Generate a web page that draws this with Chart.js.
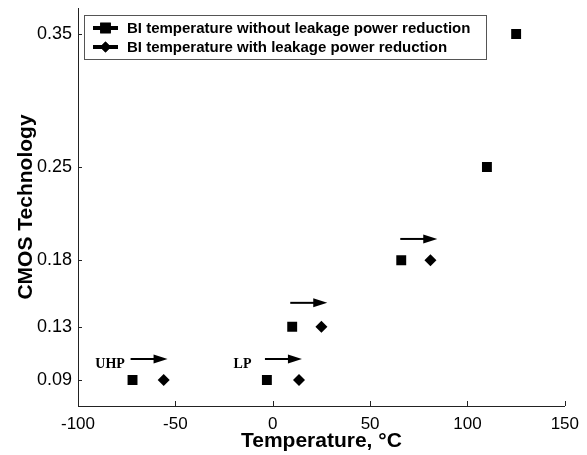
<!DOCTYPE html>
<html>
<head>
<meta charset="utf-8">
<script src="https://cdn.jsdelivr.net/npm/chart.js@4.4.0/dist/chart.umd.min.js"></script>
<style>
  html, body { margin: 0; padding: 0; background: #fff; }
  #wrap { width: 587px; height: 455px; }
</style>
</head>
<body>
<div id="wrap"><canvas id="chart" width="587" height="455"></canvas></div>
<script>
// CMOS nodes shown on the y axis
const techNodes = [0.09, 0.13, 0.18, 0.25, 0.35];

// BI temperature without leakage power reduction
const nodesWithout = [0.09, 0.09, 0.13, 0.18, 0.25, 0.35];
const tempWithout = [-72, -3, 10, 66, 110, 125];

// BI temperature with leakage power reduction
const nodesWith = [0.09, 0.09, 0.13, 0.18];
const tempWith = [-56, 13.5, 25, 81];

// arrows showing the shift (start temp, end temp, y level)
const arrowFrom = [-73, -4, 9, 65.5];
const arrowTo = [-54, 15, 28, 84.5];
const arrowLevel = [0.1058, 0.1058, 0.148, 0.196];

// UHP / LP labels
const groupNames = ['UHP', 'LP'];
const groupX = [-83.5, -15.5];
const groupY = [0.1015, 0.1015];

const legendNames = [
    'BI temperature without leakage power reduction',
    'BI temperature with leakage power reduction'
];

function toPoints(xs, ys) {
    return xs.map((x, i) => ({ x: x, y: ys[i] }));
}

const extras = {
    id: 'extras',
    afterDraw(chart) {
        const ctx = chart.ctx;
        const xs = chart.scales.x;
        const ys = chart.scales.y;
        const area = chart.chartArea;
        ctx.save();

        // inward tick marks
        ctx.strokeStyle = '#222';
        ctx.lineWidth = 1;
        ctx.beginPath();
        xs.ticks.forEach(t => {
            const px = Math.round(xs.getPixelForValue(t.value)) + 0.5;
            ctx.moveTo(px, area.bottom);
            ctx.lineTo(px, area.bottom - 5);
        });
        ys.ticks.forEach(t => {
            const py = Math.round(ys.getPixelForValue(t.value)) + 0.5;
            ctx.moveTo(area.left, py);
            ctx.lineTo(area.left + 4, py);
        });
        ctx.stroke();

        // arrows
        ctx.fillStyle = '#000';
        ctx.strokeStyle = '#000';
        for (let i = 0; i < arrowFrom.length; i++) {
            const x1 = xs.getPixelForValue(arrowFrom[i]);
            const x2 = xs.getPixelForValue(arrowTo[i]);
            const y = ys.getPixelForValue(arrowLevel[i]);
            ctx.lineWidth = 2;
            ctx.beginPath();
            ctx.moveTo(x1, y);
            ctx.lineTo(x2 - 10, y);
            ctx.stroke();
            ctx.beginPath();
            ctx.moveTo(x2, y);
            ctx.lineTo(x2 - 14, y - 4.5);
            ctx.lineTo(x2 - 14, y + 4.5);
            ctx.closePath();
            ctx.fill();
        }

        // UHP / LP labels
        ctx.font = 'bold 14px "Liberation Serif", "Times New Roman", serif';
        ctx.textAlign = 'center';
        ctx.textBaseline = 'middle';
        groupNames.forEach((name, i) => {
            ctx.fillText(name, xs.getPixelForValue(groupX[i]), ys.getPixelForValue(groupY[i]));
        });

        // legend box
        const bx = 84.5, by = 15.5, bw = 402, bh = 44;
        ctx.fillStyle = '#fff';
        ctx.fillRect(bx, by, bw, bh);
        ctx.strokeStyle = '#555';
        ctx.lineWidth = 1;
        ctx.strokeRect(bx, by, bw, bh);
        ctx.font = 'bold 15px "Liberation Sans", Arial, sans-serif';
        ctx.textAlign = 'left';
        ctx.fillStyle = '#000';
        const rows = [28, 47];
        const styles = ['rect', 'rectRot'];
        rows.forEach((ry, i) => {
            ctx.strokeStyle = '#000';
            ctx.lineWidth = 4;
            ctx.beginPath();
            ctx.moveTo(93, ry);
            ctx.lineTo(118, ry);
            ctx.stroke();
            Chart.helpers.drawPoint(ctx, { pointStyle: styles[i], radius: i === 0 ? 7.5 : 5.5, rotation: 0, borderWidth: 0 }, 105.5, ry);
            ctx.fillStyle = '#000';
            ctx.fill();
            ctx.fillText(legendNames[i], 127, ry + 1);
        });
        ctx.restore();
    }
};

new Chart(document.getElementById('chart').getContext('2d'), {
    type: 'scatter',
    data: {
        datasets: [{
            label: legendNames[0],
            data: toPoints(tempWithout, nodesWithout),
            pointStyle: 'rect',
            pointRadius: 7,
            backgroundColor: '#000',
            borderColor: '#000',
            borderWidth: 0
        }, {
            label: legendNames[1],
            data: toPoints(tempWith, nodesWith),
            pointStyle: 'rectRot',
            pointRadius: 6,
            backgroundColor: '#000',
            borderColor: '#000',
            borderWidth: 0
        }]
    },
    options: {
        responsive: false,
        animation: false,
        layout: { padding: { top: 8, right: 21, left: 0, bottom: 0 } },
        plugins: {
            legend: { display: false },
            tooltip: { enabled: false }
        },
        scales: {
            x: {
                type: 'linear',
                min: -100,
                max: 150,
                ticks: {
                    stepSize: 50,
                    color: '#000',
                    padding: 8,
                    maxRotation: 0,
                    font: { family: '"Liberation Sans", Arial, sans-serif', size: 17 }
                },
                grid: { display: false, drawTicks: false },
                border: { display: true, color: '#222', width: 1 },
                title: {
                    display: true,
                    text: 'Temperature, °C',
                    color: '#000',
                    padding: { top: 0, bottom: 1 },
                    font: { family: '"Liberation Sans", Arial, sans-serif', size: 21, weight: 'bold' }
                },
                afterFit(scale) { scale.height = 49; }
            },
            y: {
                type: 'linear',
                min: 0.0705,
                max: 0.3695,
                afterBuildTicks(scale) {
                    scale.ticks = techNodes.map(v => ({ value: v }));
                },
                ticks: {
                    color: '#000',
                    padding: 6,
                    font: { family: '"Liberation Sans", Arial, sans-serif', size: 18 },
                    callback: v => v.toFixed(2)
                },
                grid: { display: false, drawTicks: false },
                border: { display: true, color: '#222', width: 1 },
                title: {
                    display: true,
                    text: 'CMOS Technology',
                    color: '#000',
                    padding: { top: 14, bottom: 0 },
                    font: { family: '"Liberation Sans", Arial, sans-serif', size: 21, weight: 'bold' }
                },
                afterFit(scale) {
                    scale.width = 78;
                    scale.paddingTop = 0;
                    scale.paddingBottom = 0;
                }
            }
        }
    },
    plugins: [extras]
});
</script>
</body>
</html>
